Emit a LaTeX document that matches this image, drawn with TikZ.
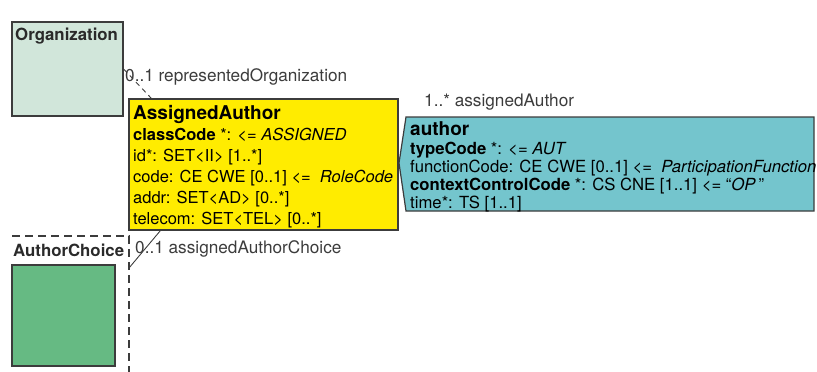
\documentclass[tikz,border=0pt]{standalone}
\usepackage{fontspec}
\setmainfont{TeX Gyre Heros}
\usepackage{xcolor}
\definecolor{rimyellow}{RGB}{255,236,0}
\definecolor{rimteal}{RGB}{116,197,205}
\definecolor{rimpale}{RGB}{209,230,218}
\definecolor{rimgreen}{RGB}{102,186,131}
\definecolor{rimgray}{RGB}{60,60,60}
\usepackage{tikz}

\begin{document}
\begin{tikzpicture}[x=1pt,y=-1pt,
  classbox/.style={draw=rimgray,line width=1.2pt,inner sep=0pt},
  txt/.style={inner sep=0pt,anchor=base west,font=\fontsize{16.5}{21}\selectfont},
  lbl/.style={txt,font=\fontsize{17.2}{21}\selectfont,text=rimgray},
  ttl/.style={inner sep=0pt,anchor=base west,font=\fontsize{19}{21}\selectfont\bfseries},
  classname/.style={inner sep=0pt,anchor=base west,font=\fontsize{16.8}{21}\selectfont\bfseries,text=rimgray!70!black},
  framedash/.style={draw=rimgray,line width=1.1pt,dash pattern=on 8pt off 5pt},
  linkdash/.style={draw=rimgray,line width=0.9pt,dash pattern=on 5pt off 4pt}]
\useasboundingbox (0,0) rectangle (817,372);

\node[classbox,fill=rimpale,minimum width=111pt,minimum height=94pt] (org) at (67.5,69) {};
\node[classbox,fill=rimyellow,minimum width=269pt,minimum height=131pt] (asgn) at (263.5,164.5) {};
\coordinate (tip) at (399,163);
\draw[classbox,fill=rimteal] (406,117) -- (814,117) -- (814,211) -- (406,211) -- (tip) -- cycle;
\node[classbox,fill=rimgreen,minimum width=103pt,minimum height=101pt] (grp) at (63.5,315.5) {};
\coordinate (choice) at (129,236);
\draw[framedash] (12,236) -- (choice) -- (129,372);

\draw[linkdash] (org.east) -- ([xshift=23pt]asgn.north west);
\draw[rimgray,line width=0.9pt] ([xshift=32pt]asgn.south west) -- ([yshift=-32pt]choice);

\node[classname] (orgName) at (15,40) {Organization};
\node[classname] (choiceName) at (13,256) {AuthorChoice};
\node[lbl] (orgRole) at (125,81) {0..1 representedOrganization};
\node[lbl] (authRole) at (424,106) {1..* assignedAuthor};
\node[lbl] (choiceRole) at (135,253) {0..1 assignedAuthorChoice};

\node[ttl] (asgnTitle) at (133,119) {AssignedAuthor};
\node[txt] (asgnBody) at (133,140) {\begin{tabular}[t]{@{}l@{}}
\textbf{classCode} *: <= \textit{ASSIGNED}\\
id*: SET<II> [1..*]\\
code: CE CWE [0..1] <=\ \ \textit{RoleCode}\\
addr: SET<AD> [0..*]\\
telecom: SET<TEL> [0..*]
\end{tabular}};

\node[ttl] (authTitle) at (410,135) {author};
\node[txt,font=\fontsize{16.7}{18.3}\selectfont] (authBody) at (410,154) {\begin{tabular}[t]{@{}l@{}}
\textbf{typeCode} *: <= \textit{AUT}\\
functionCode: CE CWE [0..1] <=\ \ \textit{ParticipationFunction}\\
\textbf{contextControlCode} *: CS CNE [1..1] <= “\textit{OP}\,”\\
time*: TS [1..1]
\end{tabular}};
\end{tikzpicture}
\end{document}
